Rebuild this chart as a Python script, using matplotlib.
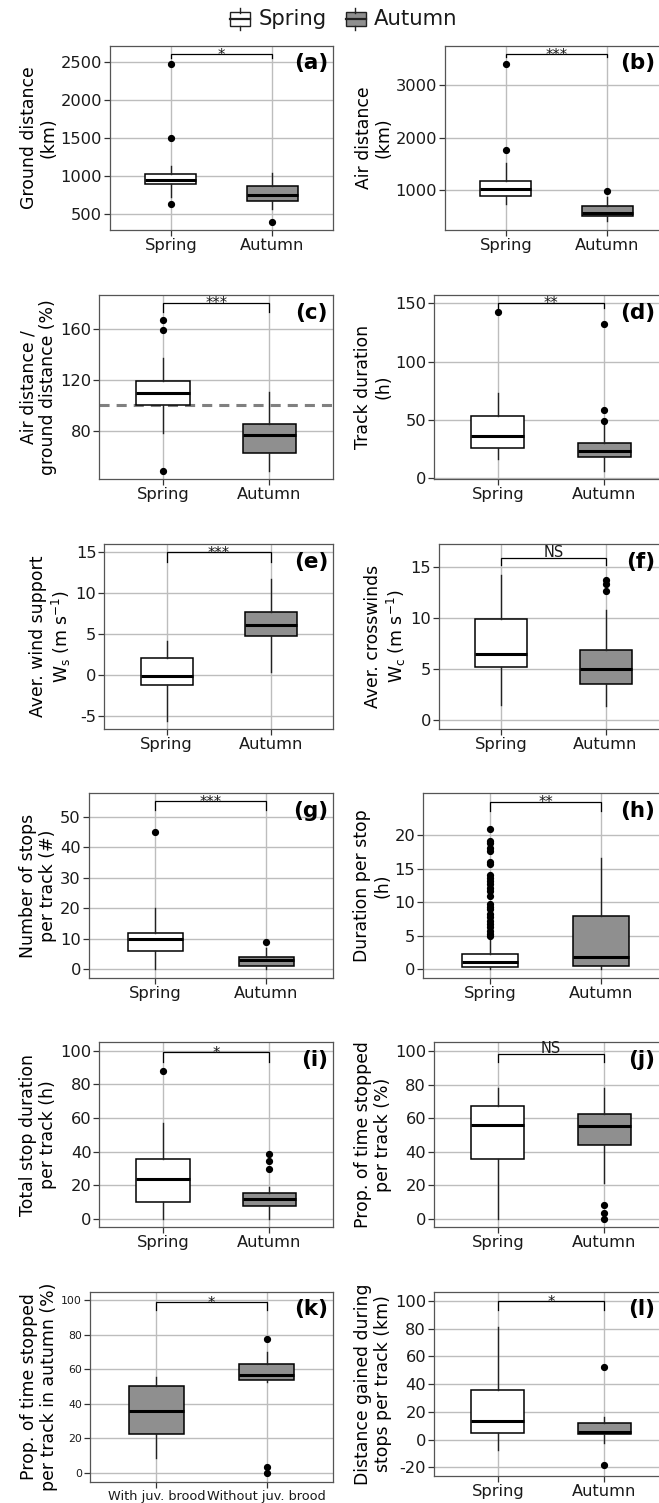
import matplotlib
matplotlib.use("Agg")
import matplotlib.pyplot as plt
from matplotlib.patches import Rectangle
from matplotlib.lines import Line2D

plt.rcParams["font.family"] = ["DejaVu Sans"]
plt.rcParams["mathtext.fontset"] = "dejavusans"
plt.rcParams["axes.unicode_minus"] = False

W, H = 659, 1503

# ---------------- data (five-number summaries: whislo, q1, med, q3, whishi) ----------------
groups = ["Spring", "Autumn"]
groups_k = ["With juv. brood", "Without juv. brood"]

a_spring = [731, 893, 949, 1024, 1137]
a_spring_out = [2466, 1496, 635]
a_autumn = [566, 678, 753, 875, 1045]
a_autumn_out = [403]

b_spring = [733, 891, 1013, 1177, 1509]
b_spring_out = [3394, 1762]
b_autumn = [415, 510, 556, 701, 872]
b_autumn_out = [981]

c_spring = [78.4, 100.5, 109.4, 119.1, 137.0]
c_spring_out = [167.2, 159.3, 48.5]
c_autumn = [48.5, 62.2, 76.9, 85.0, 110.7]
c_autumn_out = []

d_spring = [16.3, 26.0, 36.3, 53.4, 72.9]
d_spring_out = [142.3]
d_autumn = [6.5, 18.3, 23.4, 30.3, 47.1]
d_autumn_out = [132.3, 58.8, 48.9]

e_spring = [-5.63, -1.26, -0.1, 2.0, 4.13]
e_spring_out = []
e_autumn = [0.37, 4.78, 6.09, 7.72, 11.72]
e_autumn_out = []

f_spring = [1.47, 5.24, 6.48, 9.92, 14.24]
f_spring_out = []
f_autumn = [1.38, 3.57, 5.04, 6.88, 10.8]
f_autumn_out = [13.78, 13.4, 12.67]

g_spring = [0, 6, 10, 12, 20]
g_spring_out = [45]
g_autumn = [0, 1, 3, 4, 7]
g_autumn_out = [9]

h_spring = [0, 0.34, 1.04, 2.24, 4.87]
h_spring_out = [20.9, 19.15, 18.8, 18.15, 17.7, 16.06, 15.7, 14.07, 13.7, 13.2,
                12.7, 12.2, 11.7, 11.0, 9.75, 9.3, 8.95, 8.25, 7.76, 7.25,
                6.76, 6.27, 5.76, 5.27, 5.0]
h_autumn = [0, 0.55, 1.8, 7.96, 16.7]
h_autumn_out = []

i_spring = [0, 10.1, 23.6, 35.5, 56.8]
i_spring_out = [88.1]
i_autumn = [0, 7.4, 11.9, 15.3, 19.0]
i_autumn_out = [38.3, 34.3, 29.6]

j_spring = [0, 35.7, 56.0, 67.5, 77.9]
j_spring_out = []
j_autumn = [21.2, 44.1, 55.6, 62.4, 77.9]
j_autumn_out = [8.2, 3.6, 0.0]

k_with = [8.3, 22.4, 35.7, 50.2, 55.6]
k_with_out = []
k_without = [52.7, 53.7, 56.6, 62.8, 70.1]
k_without_out = [77.6, 3.5, 0.0]

l_spring = [-7.5, 4.5, 13.6, 35.7, 80.8]
l_spring_out = []
l_autumn = [-2.2, 3.8, 5.7, 11.7, 16.5]
l_autumn_out = [52.5, -18.3]

# significance labels and y-axis labels
sig_labels = ["*", "***", "***", "**", "***", "NS", "***", "**", "*", "NS", "*", "*"]
panel_tags = ["(a)", "(b)", "(c)", "(d)", "(e)", "(f)", "(g)", "(h)", "(i)", "(j)", "(k)", "(l)"]
ylabels = [
    "Ground distance\n(km)",
    "Air distance\n(km)",
    "Air distance /\nground distance (%)",
    "Track duration\n(h)",
    "Aver. wind support\n" + r"W$_\mathregular{s}$ (m s$^{-1}$)",
    "Aver. crosswinds\n" + r"W$_\mathregular{c}$ (m s$^{-1}$)",
    "Number of stops\nper track (#)",
    "Duration per stop\n(h)",
    "Total stop duration\nper track (h)",
    "Prop. of time stopped\nper track (%)",
    "Prop. of time stopped\nper track in autumn (%)",
    "Distance gained during\nstops per track (km)",
]
yticks = [
    [500, 1000, 1500, 2000, 2500],
    [1000, 2000, 3000],
    [80, 120, 160],
    [0, 50, 100, 150],
    [-5, 0, 5, 10, 15],
    [0, 5, 10, 15],
    [0, 10, 20, 30, 40, 50],
    [0, 5, 10, 15, 20],
    [0, 20, 40, 60, 80, 100],
    [0, 20, 40, 60, 80, 100],
    [0, 20, 40, 60, 80, 100],
    [-20, 0, 20, 40, 60, 80, 100],
]
ylims = [(294, 2706), (238, 3743), (41.7, 186.8), (-0.9, 157.1), (-6.65, 16.0),
         (-0.88, 17.26), (-2.85, 57.6), (-1.3, 26.3), (-4.76, 105), (-4.8, 105.4),
         (-5.2, 104.8), (-26.2, 106.5)]
brackets = [(2601, 2545), (3590, 3528), (180.8, 173.7), (150.5, 145.7), (15.0, 13.8),
            (15.95, 15.2), (55.0, 52.2), (25.07, 23.7), (99, 93.5), (98.4, 93.8),
            (98.7, 94.2), (99.8, 93.3)]

series = [
    (a_spring, a_spring_out, a_autumn, a_autumn_out),
    (b_spring, b_spring_out, b_autumn, b_autumn_out),
    (c_spring, c_spring_out, c_autumn, c_autumn_out),
    (d_spring, d_spring_out, d_autumn, d_autumn_out),
    (e_spring, e_spring_out, e_autumn, e_autumn_out),
    (f_spring, f_spring_out, f_autumn, f_autumn_out),
    (g_spring, g_spring_out, g_autumn, g_autumn_out),
    (h_spring, h_spring_out, h_autumn, h_autumn_out),
    (i_spring, i_spring_out, i_autumn, i_autumn_out),
    (j_spring, j_spring_out, j_autumn, j_autumn_out),
    (k_with, k_with_out, k_without, k_without_out),
    (l_spring, l_spring_out, l_autumn, l_autumn_out),
]

# ---------------- layout (pixel boxes: left, right, top, bottom) ----------------
rects = [
    (110, 333, 46, 230), (445, 668, 46, 230),
    (99.3, 333, 295, 479.3), (434, 668, 295, 479.3),
    (104.3, 333, 544.3, 729), (439, 668, 544.3, 729),
    (88.7, 333, 793.3, 978), (423, 668, 793.3, 978),
    (99.3, 333, 1042.3, 1226.7), (434, 668, 1042.3, 1226.7),
    (90, 333, 1291.7, 1481.7), (434, 668, 1291.7, 1476),
]

SPRING_FILL = "white"
AUTUMN_FILL = "#8f8f8f"
GRID = "#bdbdbd"
BORDER = "#555555"

fig = plt.figure(figsize=(W / 100, H / 100), dpi=100)


def stats_of(five, out, label):
    lo, q1, med, q3, hi = five
    return dict(whislo=lo, q1=q1, med=med, q3=q3, whishi=hi, fliers=list(out), label=label)


for idx, (rect, (s1, o1, s2, o2)) in enumerate(zip(rects, series)):
    l, r, t, b = rect
    ax = fig.add_axes([l / W, 1 - b / H, (r - l) / W, (b - t) / H])
    is_k = idx == 10
    cats = groups_k if is_k else groups
    stats = [stats_of(s1, o1, cats[0]), stats_of(s2, o2, cats[1])]
    bp = ax.bxp(stats, positions=[1, 2], widths=0.5, patch_artist=True, showcaps=False,
                boxprops=dict(edgecolor="black", linewidth=1.1),
                medianprops=dict(color="black", linewidth=2.2, solid_capstyle="butt"),
                whiskerprops=dict(color="#222222", linewidth=1.0),
                flierprops=dict(marker="o", markerfacecolor="black", markeredgecolor="black",
                                markersize=4.2, linestyle="none"))
    fills = [AUTUMN_FILL, AUTUMN_FILL] if is_k else [SPRING_FILL, AUTUMN_FILL]
    for patch, fc in zip(bp["boxes"], fills):
        patch.set_facecolor(fc)

    ax.set_xlim(0.4, 2.6)
    ax.set_ylim(*ylims[idx])
    ax.set_xticks([1, 2])
    ax.set_xticklabels(cats)
    ax.set_yticks(yticks[idx])
    ax.set_axisbelow(True)
    ax.grid(True, color=GRID, linewidth=1.0)
    for sp in ax.spines.values():
        sp.set_color(BORDER)
        sp.set_linewidth(0.9)
    ax.tick_params(axis="both", direction="out", length=4.5, width=0.9, color="#333333",
                   labelcolor="#1a1a1a", pad=1.2)
    if is_k:
        ax.tick_params(axis="y", labelsize=7.8)
        ax.tick_params(axis="x", labelsize=9.3)
    else:
        ax.tick_params(axis="both", labelsize=11.7)
    ax.set_ylabel(ylabels[idx], fontsize=12.4, labelpad=2, linespacing=1.15)

    # dashed reference line in (c)
    if idx == 2:
        ax.axhline(100, color="#808080", linewidth=2.2, dashes=(3.3, 2.3), zorder=1.5)

    # significance bracket
    ytop, yend = brackets[idx]
    ax.plot([1, 1, 2, 2], [yend, ytop, ytop, yend], color="black", linewidth=0.9,
            solid_joinstyle="miter")
    lab = sig_labels[idx]
    dy = 0.6 if lab == "NS" else -4.0
    ax.annotate(lab, xy=(1.5, ytop), xytext=(0, dy), textcoords="offset points",
                ha="center", va="baseline", fontsize=10.5, color="#1a1a1a")

    # panel tag (right-column panels run past the figure edge; keep tag visible)
    dx = -3.6 if idx % 2 == 0 else -9.5
    ax.annotate(panel_tags[idx], xy=(1, 1), xycoords="axes fraction",
                xytext=(dx, -12.6), textcoords="offset points",
                ha="right", va="center", fontsize=15.5, fontweight="bold")

# ---------------- legend ----------------
def fxy(x, y):
    return x / W, 1 - y / H


def legend_key(cx, fill):
    bw, top, bot = 20, 12.5, 25.5
    x0, y0 = fxy(cx - bw / 2, bot)
    fig.add_artist(Rectangle((x0, y0), bw / W, (bot - top) / H, transform=fig.transFigure,
                             facecolor=fill, edgecolor="#222222", linewidth=1.0))
    xa, ya = fxy(cx - bw / 2, 19)
    xb, yb = fxy(cx + bw / 2, 19)
    fig.add_artist(Line2D([xa, xb], [ya, yb], transform=fig.transFigure, color="#222222",
                          linewidth=1.6))
    for y1, y2 in [(7.5, top), (bot, 30)]:
        p1 = fxy(cx, y1)
        p2 = fxy(cx, y2)
        fig.add_artist(Line2D([p1[0], p2[0]], [p1[1], p2[1]], transform=fig.transFigure,
                              color="#222222", linewidth=1.0))


legend_key(240, SPRING_FILL)
legend_key(355.5, AUTUMN_FILL)
tx, ty = fxy(259, 19)
fig.text(tx, ty, groups[0], ha="left", va="center", fontsize=15.3, color="#1a1a1a")
tx, ty = fxy(374, 19)
fig.text(tx, ty, groups[1], ha="left", va="center", fontsize=15.3, color="#1a1a1a")

fig.savefig("out.png", dpi=100)
